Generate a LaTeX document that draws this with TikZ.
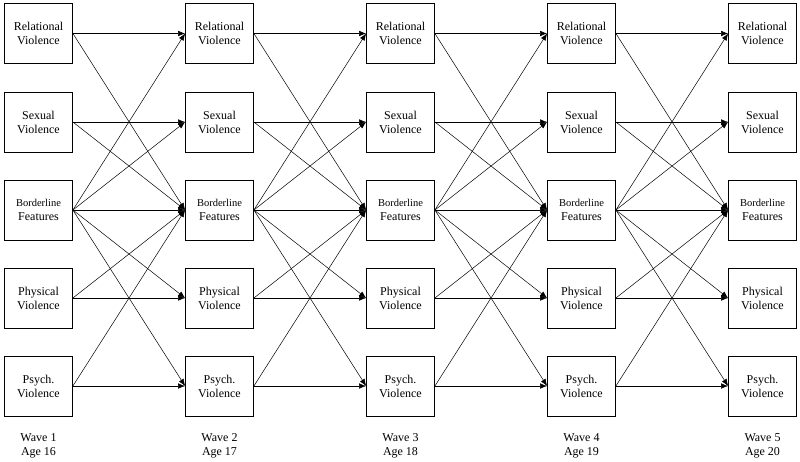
\documentclass[tikz,border=0pt]{standalone}
\usepackage{fontspec}
\setmainfont{Liberation Serif}
\usetikzlibrary{arrows.meta}

\begin{document}
\begin{tikzpicture}[x=1pt, y=-1pt, >={Latex[length=7pt,width=5.5pt]},
    font=\fontsize{12}{14}\selectfont,
    var/.style={draw, rectangle, line width=0.8pt, minimum width=68pt, minimum height=60pt, inner sep=0pt, align=center},
    link/.style={->, line width=0.5pt}]
    \useasboundingbox (0,0) rectangle (800,461);

    % one column of boxes per wave
    \foreach \w/\age [count=\i from 0] in {1/16,2/17,3/18,4/19,5/20} {
        \pgfmathsetmacro{\cx}{38.5+181*\i}
        \node[var] (rv\w) at (\cx,33.5) {Relational\\Violence};
        \node[var] (sv\w) at (\cx,122) {Sexual\\Violence};
        \node[var] (bf\w) at (\cx,210) {{\fontsize{10.5}{14}\selectfont Borderline}\\Features};
        \node[var] (pv\w) at (\cx,298) {Physical\\Violence};
        \node[var] (psy\w) at (\cx,386) {Psych.\\Violence};
        \node[align=center] (wave\w) at (\cx,446) {Wave \w\\Age \age};
    }

    % cross-lagged paths
    \foreach \a/\b in {1/2,2/3,3/4,4/5} {
        \foreach \v in {rv,sv,pv,psy} {
            \draw[link] (\v\a.east) -- (\v\b.west);
            \draw[link] (\v\a.east) -- (bf\b.west);
        }
        \foreach \v in {rv,sv,bf,pv,psy}
            \draw[link] (bf\a.east) -- (\v\b.west);
    }
\end{tikzpicture}
\end{document}
